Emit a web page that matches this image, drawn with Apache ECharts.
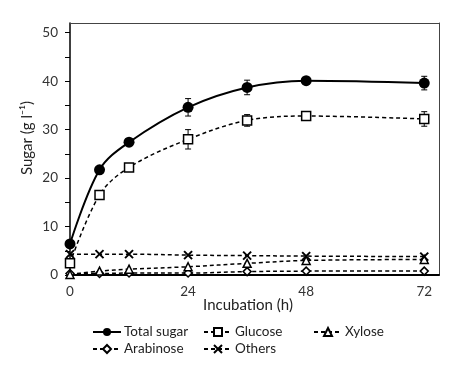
<!DOCTYPE html>
<html>
<head>
<meta charset="utf-8">
<script src="https://cdn.jsdelivr.net/npm/echarts@6/dist/echarts.min.js"></script>
<style>
  html, body { margin: 0; padding: 0; background: #fff; }
  #chart { width: 461px; height: 374px; }
</style>
</head>
<body>
<div id="chart"></div>
<script>
// incubation time (h)
var hours = [0, 6, 12, 24, 36, 48, 72];

// sugar concentration (g/l)
var totalSugar = [6.4, 21.7, 27.4, 34.6, 38.7, 40.1, 39.6];
var totalSugarErr = [0, 0, 0, 1.8, 1.5, 0, 1.4];
var glucose = [2.4, 16.5, 22.2, 28.0, 31.9, 32.8, 32.2];
var glucoseErr = [0, 0, 0, 2.0, 1.2, 0, 1.5];
var xylose = [0.1, 0.8, 1.2, 1.7, 2.4, 3.0, 3.2];
var arabinose = [0.3, 0.3, 0.4, 0.4, 0.7, 0.8, 0.8];
var others = [4.3, 4.3, 4.3, 4.1, 4.0, 3.9, 3.8];

// axis ticks / labels
var yTicks = [0, 5, 10, 15, 20, 25, 30, 35, 40, 45, 50];
var yLabels = [0, 10, 20, 30, 40, 50];
var xLabels = [0, 24, 48, 72];

var FONT = 'Lato';
var crossPath = 'path://M0,0L10,10M10,0L0,10';

function pairs(ys) {
  return hours.map(function (h, i) { return [h, ys[i]]; });
}

// 折线
function makeLine(name, ys, symbol, size, opt) {
  return echarts.util.merge({
    type: 'line',
    name: name,
    data: pairs(ys),
    smooth: 0.35,
    symbol: symbol,
    symbolSize: size,
    showSymbol: true,
    lineStyle: { color: '#000', width: 1.5, type: [4, 3] },
    itemStyle: { color: '#fff', borderColor: '#000', borderWidth: 1.5 },
    emphasis: { disabled: true },
    z: 3
  }, opt || {}, true);
}

// 误差线
function makeErr(ys, errs) {
  return {
    type: 'custom',
    silent: true,
    z: 4,
    data: hours.map(function (h, i) { return [h, ys[i], errs[i]]; }),
    encode: { x: 0, y: 1 },
    renderItem: function (params, api) {
      var x = api.value(0), y = api.value(1), e = api.value(2);
      if (!e) return null;
      var top = api.coord([x, y + e]);
      var bot = api.coord([x, y - e]);
      var st = { stroke: '#000', lineWidth: 1 };
      return {
        type: 'group',
        children: [
          { type: 'line', shape: { x1: top[0], y1: top[1], x2: bot[0], y2: bot[1] }, style: st },
          { type: 'line', shape: { x1: top[0] - 3, y1: top[1], x2: top[0] + 3, y2: top[1] }, style: st },
          { type: 'line', shape: { x1: bot[0] - 3, y1: bot[1], x2: bot[0] + 3, y2: bot[1] }, style: st }
        ]
      };
    }
  };
}

function makeLegend(name, left, top) {
  return {
    data: [name],
    left: left,
    top: top,
    padding: 0,
    itemWidth: 28,
    itemHeight: 10,
    itemGap: 4,
    selectedMode: false,
    textStyle: { fontFamily: FONT, fontSize: 13.5, color: '#222', padding: [0, 0, 0, -2] }
  };
}

var chart = echarts.init(document.getElementById('chart'), null, { renderer: 'canvas' });

var option = {
  animation: false,
  backgroundColor: '#fff',
  grid: {
    left: 70, top: 23, right: 22, bottom: 99,
    containLabel: false
  },
  xAxis: [{
    type: 'value',
    min: 0, max: 75,
    splitLine: { show: false },
    axisLine: { show: true, onZero: false, lineStyle: { color: '#000', width: 2 } },
    axisTick: { show: false },
    axisLabel: {
      customValues: xLabels,
      fontFamily: FONT, fontSize: 13.5, color: '#333', margin: 10
    }
  }, {
    // 上边框
    type: 'value', position: 'top',
    min: 0, max: 75,
    splitLine: { show: false },
    axisLine: { show: true, onZero: false, lineStyle: { color: '#444', width: 1 } },
    axisTick: { show: false },
    axisLabel: { show: false }
  }],
  yAxis: [{
    type: 'value',
    min: 0, max: 52,
    splitLine: { show: false },
    axisLine: { show: true, lineStyle: { color: '#000', width: 1.5 } },
    axisTick: { show: true, customValues: yTicks, length: 5, lineStyle: { color: '#000', width: 1 } },
    axisLabel: {
      customValues: yLabels,
      fontFamily: FONT, fontSize: 13.5, color: '#333', margin: 12
    }
  }, {
    // 右边框
    type: 'value', position: 'right',
    min: 0, max: 52,
    splitLine: { show: false },
    axisLine: { show: true, onZero: false, lineStyle: { color: '#444', width: 1 } },
    axisTick: { show: false },
    axisLabel: { show: false }
  }],
  legend: [
    makeLegend('Total sugar', 92, 325),
    makeLegend('Glucose', 203, 325),
    makeLegend('Xylose', 313, 325),
    makeLegend('Arabinose', 92, 342),
    makeLegend('Others', 203, 342)
  ],
  graphic: [
    {
      type: 'text',
      x: 27, y: 138, rotation: Math.PI / 2,
      style: { text: 'Sugar (g l\u207B\u00B9)', fontFamily: FONT, fontSize: 15, fill: '#222', align: 'center', verticalAlign: 'middle' }
    },
    {
      type: 'text',
      x: 248, y: 305,
      style: { text: 'Incubation (h)', fontFamily: FONT, fontSize: 15, fill: '#222', align: 'center', verticalAlign: 'middle' }
    }
  ],
  series: [
    makeLine('Arabinose', arabinose, 'diamond', 8),
    makeLine('Xylose', xylose, 'triangle', 8),
    makeLine('Others', others, crossPath, 8, { itemStyle: { color: 'none', borderWidth: 2 } }),
    makeLine('Glucose', glucose, 'rect', 9, { z: 5 }),
    makeErr(glucose, glucoseErr),
    makeLine('Total sugar', totalSugar, 'circle', 11, {
      lineStyle: { type: 'solid', width: 2 },
      itemStyle: { color: '#000', borderWidth: 0 },
      z: 6
    }),
    makeErr(totalSugar, totalSugarErr)
  ]
};

chart.setOption(option);
</script>
</body>
</html>
